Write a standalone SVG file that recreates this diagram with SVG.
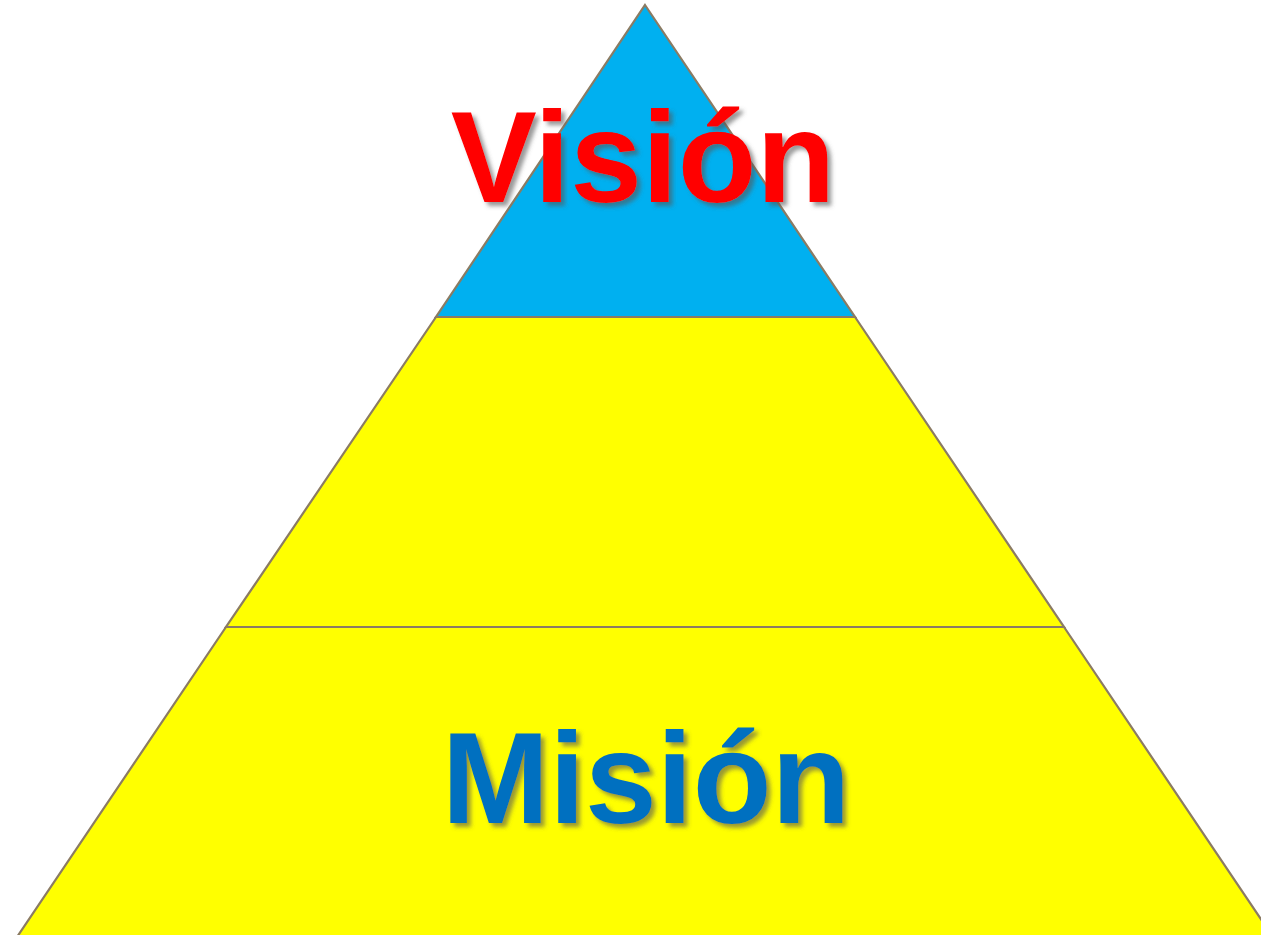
<svg xmlns="http://www.w3.org/2000/svg" width="1261" height="935" viewBox="0 0 1261 935">
<defs>
<style>
.tier{stroke:#8B7B63;stroke-width:2.2;stroke-linejoin:miter}
.lbl{font-family:"Liberation Sans",Arial,sans-serif;font-weight:bold;font-size:129px;text-anchor:middle;filter:url(#sh)}
</style>
<filter id="sh" x="-10%" y="-20%" width="130%" height="150%">
<feDropShadow dx="4" dy="4" stdDeviation="2.2" flood-color="#555" flood-opacity="0.6"/>
</filter>
</defs>
<rect width="1261" height="935" fill="#fff"/>
<g id="bottom">
<polygon class="tier" points="226,627 1064,627 1273,937 17,937" fill="#FFFF00"/>
</g>
<g id="middle">
<polygon class="tier" points="436,317 855,317 1064,627 226,627" fill="#FFFF00"/>
</g>
<g id="top">
<polygon class="tier" points="645,5 855,317 436,317" fill="#00B0F0"/>
</g>
<g id="vision">
<text class="lbl" x="643" y="202" fill="#FF0000">Visión</text>
</g>
<g id="mision">
<text class="lbl" x="646" y="823" fill="#0070C0">Misión</text>
</g>
</svg>
